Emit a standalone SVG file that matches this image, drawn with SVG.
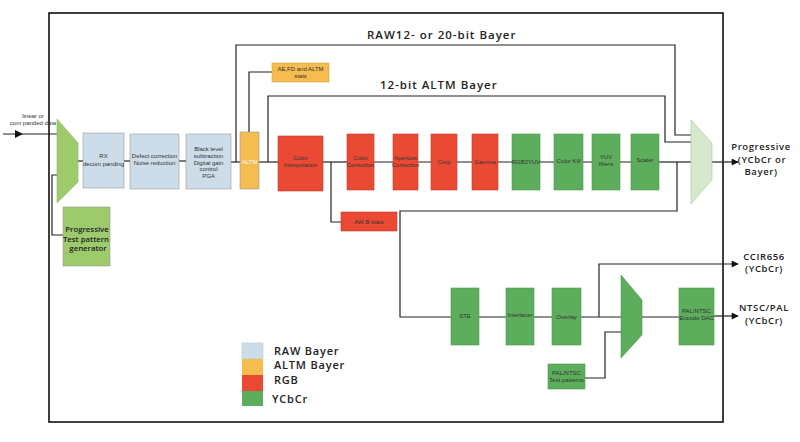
<svg xmlns="http://www.w3.org/2000/svg" width="800" height="442" viewBox="0 0 800 442">
<style>
  .ln{fill:none;stroke:#222;stroke-width:1.2}
  .bx{stroke:#9a9a9a;stroke-width:0.6}
  .raw{fill:#ccdde9}
  .altm{fill:#f5bc50}
  .rgb{fill:#ea4a33;stroke:#c03a28}
  .ycc{fill:#5cad5c;stroke:#4a9a4a}
  .t{font-family:"Liberation Sans",Arial,sans-serif;font-size:6px;fill:#333;text-anchor:middle}
  .tw{fill:#fff}
  .big{font-family:"Open Sans","Liberation Sans",sans-serif;font-size:11.5px;font-weight:600;fill:#222;letter-spacing:1px}
  .out{font-family:"Open Sans","Liberation Sans",sans-serif;font-size:9.5px;font-weight:600;fill:#222;text-anchor:middle;letter-spacing:0.6px}
  .leg{font-family:"Open Sans","Liberation Sans",sans-serif;font-size:11px;font-weight:600;fill:#222;letter-spacing:0.8px}
  .pg{font-family:"Open Sans","Liberation Sans",sans-serif;font-size:7.8px;font-weight:600;fill:#222;text-anchor:middle}
</style>
<defs>
  <marker id="ah" viewBox="0 0 10 10" refX="9" refY="5" markerWidth="8" markerHeight="7" markerUnits="userSpaceOnUse" orient="auto">
    <path d="M0,0 L10,5 L0,10 z" fill="#111"/>
  </marker>
</defs>
<rect width="800" height="442" fill="#fff"/>
<rect x="49" y="13" width="674" height="409" fill="none" stroke="#111" stroke-width="1.6"/>

<g id="connectors">
  <path class="ln" d="M3,134 H57"/>
  <path d="M15,130 L23,134 L15,138 z" fill="#111"/>
  <path class="ln" d="M57,175 H52 V235 H63"/>
  <path class="ln" d="M78,161 H83"/>
  <path class="ln" d="M124,161 H130"/>
  <path class="ln" d="M179,161 H186"/>
  <path class="ln" d="M231,162 H240"/>
  <path class="ln" d="M236,162 V45 H675 V135 H691"/>
  <path class="ln" d="M249,132 V72 H272"/>
  <path class="ln" d="M259,162 H278"/>
  <path class="ln" d="M268,162 V96 H665 V142 H691"/>
  <path class="ln" d="M323,162 H347"/>
  <path class="ln" d="M331,162 V222 H341"/>
  <path class="ln" d="M374,162 H393 M418,162 H431 M457,162 H472 M498,162 H512 M540,162 H554 M583,162 H592 M620,162 H631"/>
  <path class="ln" d="M659,162 H691"/>
  <path class="ln" d="M677,162 V211 H400 V317 H451"/>
  <path class="ln" d="M712,162 H738" marker-end="url(#ah)"/>
  <path class="ln" d="M479,317 H506 M534,317 H552 M581,317 H621"/>
  <path class="ln" d="M599,317 V264 H738" marker-end="url(#ah)"/>
  <path class="ln" d="M585,378 H605 V332 H621"/>
  <path class="ln" d="M642,317 H679"/>
  <path class="ln" d="M714,316 H738" marker-end="url(#ah)"/>
</g>

<text class="t" x="33" y="118" font-size="5.5">linear or</text>
<text class="t" x="33" y="125" font-size="5.5">com panded data</text>

<g id="mux1"><polygon points="57,119 78,143 78,182 57,203" fill="#9dcb6c" stroke="#8ab85a" stroke-width="0.6"/></g>
<g id="ptpg"><rect class="bx" x="63" y="207" width="47" height="59" fill="#9dcb6c"/>
  <text class="pg" x="87" y="232">Progressive</text><text class="pg" x="86" y="241.5">Test pattern</text><text class="pg" x="88" y="251">generator</text></g>

<g id="rx"><rect class="bx raw" x="83" y="133" width="41" height="55"/>
  <text class="t" x="103.5" y="158">RX</text><text class="t" x="103.5" y="166">decom panding</text></g>
<g id="defect"><rect class="bx raw" x="130" y="134" width="49" height="55"/>
  <text class="t" x="154.5" y="158">Defect correction</text><text class="t" x="154.5" y="165">Noise reduction</text></g>
<g id="black"><rect class="bx raw" x="186" y="134" width="45" height="55"/>
  <text class="t" x="208.5" y="151">Black level</text><text class="t" x="208.5" y="158">subtraction</text><text class="t" x="208.5" y="165">Digital gain</text><text class="t" x="208.5" y="171">control</text><text class="t" x="208.5" y="178">PGA</text></g>
<g id="altm"><rect class="bx altm" x="240" y="132" width="19" height="57"/>
  <text class="t tw" x="249.5" y="164">ALTM</text></g>
<g id="aestats"><rect class="altm" x="272" y="63" width="57" height="19" stroke="#d9a040" stroke-width="0.6"/>
  <text class="t" x="300.5" y="70.5" font-size="5.5">AE,FD and ALTM</text><text class="t" x="300.5" y="77.5" font-size="5.5">stats</text></g>

<text class="big" x="367" y="39">RAW12-  or 20-bit Bayer</text>
<text class="big" x="380" y="89">12-bit ALTM Bayer</text>

<g id="ci"><rect class="rgb" x="278" y="136" width="45" height="55" stroke-width="0.6"/>
  <text class="t" x="300.5" y="160">Color</text><text class="t" x="300.5" y="167">Interpolation</text></g>
<g id="cc"><rect class="rgb" x="347" y="134" width="27" height="56" stroke-width="0.6"/>
  <text class="t" x="360.5" y="160">Color</text><text class="t" x="360.5" y="167">Correction</text></g>
<g id="awb"><rect class="rgb" x="341" y="212" width="56" height="19" stroke-width="0.6"/>
  <text class="t" x="369" y="224">AW B stats</text></g>
<g id="ap"><rect class="rgb" x="393" y="134" width="25" height="56" stroke-width="0.6"/>
  <text class="t" x="405.5" y="160">Aperture</text><text class="t" x="405.5" y="167">Correction</text></g>
<g id="crop"><rect class="rgb" x="431" y="134" width="26" height="56" stroke-width="0.6"/>
  <text class="t" x="444" y="164">Crop</text></g>
<g id="gamma"><rect class="rgb" x="472" y="134" width="26" height="56" stroke-width="0.6"/>
  <text class="t" x="485" y="164">Gamma</text></g>
<g id="rgb2yuv"><rect class="ycc" x="512" y="134" width="28" height="56" stroke-width="0.6"/>
  <text class="t" x="526" y="164">RGB2YUV</text></g>
<g id="ck"><rect class="ycc" x="554" y="134" width="29" height="56" stroke-width="0.6"/>
  <text class="t" x="568.5" y="163">Color Kill</text></g>
<g id="yuvf"><rect class="ycc" x="592" y="134" width="28" height="56" stroke-width="0.6"/>
  <text class="t" x="606" y="159">YUV</text><text class="t" x="606" y="166">filters</text></g>
<g id="scaler"><rect class="ycc" x="631" y="134" width="28" height="56" stroke-width="0.6"/>
  <text class="t" x="645" y="162">Scaler</text></g>
<g id="mux2"><polygon points="691,120 712,143 712,180 691,204" fill="#d6e9cc" stroke="#a9c99a" stroke-width="0.6"/></g>

<text class="out" x="761" y="150">Progressive</text>
<text class="out" x="762" y="163">(YCbCr or</text>
<text class="out" x="761" y="175">Bayer)</text>

<g id="ste"><rect class="ycc" x="451" y="288" width="28" height="57" stroke-width="0.6"/>
  <text class="t" x="465" y="318">STE</text></g>
<g id="inter"><rect class="ycc" x="506" y="288" width="28" height="57" stroke-width="0.6"/>
  <text class="t" x="520" y="317">Interlacer</text></g>
<g id="overlay"><rect class="ycc" x="552" y="288" width="29" height="57" stroke-width="0.6"/>
  <text class="t" x="566.5" y="319">Overlay</text></g>
<g id="tp"><rect class="ycc" x="548" y="364" width="37" height="25" stroke-width="0.6"/>
  <text class="t" x="566.5" y="375">PAL/NTSC</text><text class="t" x="566.5" y="382">Test patterns</text></g>
<g id="mux3"><polygon points="621,275 642,300 642,335 621,358" fill="#5cad5c" stroke="#4a9a4a" stroke-width="0.6"/></g>
<g id="dac"><rect class="ycc" x="679" y="288" width="35" height="57" stroke-width="0.6"/>
  <text class="t" x="696.5" y="313">PAL/NTSC</text><text class="t" x="696.5" y="320">Encode DAC</text></g>

<text class="out" x="764" y="260">CCIR656</text>
<text class="out" x="764" y="272">(YCbCr)</text>
<text class="out" x="764" y="311">NTSC/PAL</text>
<text class="out" x="764" y="324">(YCbCr)</text>

<g id="legend">
  <rect class="raw" x="242" y="343" width="21" height="16" stroke="#b5c8d6" stroke-width="0.6"/>
  <rect class="altm" x="242" y="359" width="21" height="16"/>
  <rect x="242" y="375" width="21" height="16" fill="#ea4a33"/>
  <rect x="242" y="391" width="21" height="15" fill="#5cad5c"/>
  <text class="leg" x="274" y="355">RAW Bayer</text>
  <text class="leg" x="274" y="369">ALTM Bayer</text>
  <text class="leg" x="274" y="384">RGB</text>
  <text class="leg" x="272" y="403">YCbCr</text>
</g>
</svg>
